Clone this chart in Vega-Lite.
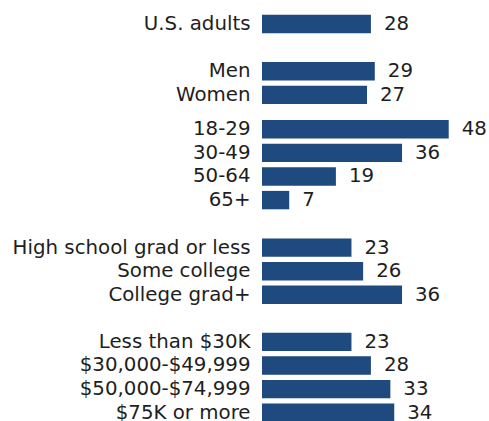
{
  "$schema": "https://vega.github.io/schema/vega-lite/v6.json",
  "padding": {"left": 12, "top": 12.2, "right": 0, "bottom": 0},
  "background": "white",
  "data": {"values": [
    {"group": "total", "label": "U.S. adults", "value": 28},
    {"group": "gender", "label": "Men", "value": 29},
    {"group": "gender", "label": "Women", "value": 27},
    {"group": "age", "label": "18-29", "value": 48},
    {"group": "age", "label": "30-49", "value": 36},
    {"group": "age", "label": "50-64", "value": 19},
    {"group": "age", "label": "65+", "value": 7},
    {"group": "edu", "label": "High school grad or less", "value": 23},
    {"group": "edu", "label": "Some college", "value": 26},
    {"group": "edu", "label": "College grad+", "value": 36},
    {"group": "income", "label": "Less than $30K", "value": 23},
    {"group": "income", "label": "$30,000-$49,999", "value": 28},
    {"group": "income", "label": "$50,000-$74,999", "value": 33},
    {"group": "income", "label": "$75K or more", "value": 34}
  ]},
  "spacing": 23.3,
  "resolve": {"scale": {"y": "independent"}},
  "vconcat": [
    {
      "transform": [{"filter": "datum.group === 'total'"}],
      "width": 194.5,
      "height": {"step": 23.6},
      "encoding": {
        "y": {"field": "label", "type": "nominal", "sort": null, "scale": {"paddingInner": 0.22, "paddingOuter": 0.11}},
        "x": {"field": "value", "type": "quantitative", "scale": {"domain": [0, 50]}, "axis": null}
      },
      "layer": [
        {"mark": {"type": "bar", "color": "#1f4a7f"}},
        {"mark": {"type": "text", "align": "left", "baseline": "middle", "dx": 13, "fontSize": 19.8, "font": "DejaVu Sans", "color": "#1e1e1e"}, "encoding": {"text": {"field": "value", "type": "quantitative"}}}
      ]
    },
    {
      "spacing": 10,
      "resolve": {"scale": {"y": "independent"}},
      "vconcat": [
        {
          "transform": [{"filter": "datum.group === 'gender'"}],
          "width": 194.5,
          "height": {"step": 23.6},
          "encoding": {
            "y": {"field": "label", "type": "nominal", "sort": null, "scale": {"paddingInner": 0.22, "paddingOuter": 0.11}},
            "x": {"field": "value", "type": "quantitative", "scale": {"domain": [0, 50]}, "axis": null}
          },
          "layer": [
            {"mark": {"type": "bar", "color": "#1f4a7f"}},
            {"mark": {"type": "text", "align": "left", "baseline": "middle", "dx": 13, "fontSize": 19.8, "font": "DejaVu Sans", "color": "#1e1e1e"}, "encoding": {"text": {"field": "value", "type": "quantitative"}}}
          ]
        },
        {
          "transform": [{"filter": "datum.group === 'age'"}],
          "width": 194.5,
          "height": {"step": 23.6},
          "encoding": {
            "y": {"field": "label", "type": "nominal", "sort": null, "scale": {"paddingInner": 0.22, "paddingOuter": 0.11}},
            "x": {"field": "value", "type": "quantitative", "scale": {"domain": [0, 50]}, "axis": null}
          },
          "layer": [
            {"mark": {"type": "bar", "color": "#1f4a7f"}},
            {"mark": {"type": "text", "align": "left", "baseline": "middle", "dx": 13, "fontSize": 19.8, "font": "DejaVu Sans", "color": "#1e1e1e"}, "encoding": {"text": {"field": "value", "type": "quantitative"}}}
          ]
        }
      ]
    },
    {
      "transform": [{"filter": "datum.group === 'edu'"}],
      "width": 194.5,
      "height": {"step": 23.6},
      "encoding": {
        "y": {"field": "label", "type": "nominal", "sort": null, "scale": {"paddingInner": 0.22, "paddingOuter": 0.11}},
        "x": {"field": "value", "type": "quantitative", "scale": {"domain": [0, 50]}, "axis": null}
      },
      "layer": [
        {"mark": {"type": "bar", "color": "#1f4a7f"}},
        {"mark": {"type": "text", "align": "left", "baseline": "middle", "dx": 13, "fontSize": 19.8, "font": "DejaVu Sans", "color": "#1e1e1e"}, "encoding": {"text": {"field": "value", "type": "quantitative"}}}
      ]
    },
    {
      "transform": [{"filter": "datum.group === 'income'"}],
      "width": 194.5,
      "height": {"step": 23.6},
      "encoding": {
        "y": {"field": "label", "type": "nominal", "sort": null, "scale": {"paddingInner": 0.22, "paddingOuter": 0.11}},
        "x": {"field": "value", "type": "quantitative", "scale": {"domain": [0, 50]}, "axis": null}
      },
      "layer": [
        {"mark": {"type": "bar", "color": "#1f4a7f"}},
        {"mark": {"type": "text", "align": "left", "baseline": "middle", "dx": 13, "fontSize": 19.8, "font": "DejaVu Sans", "color": "#1e1e1e"}, "encoding": {"text": {"field": "value", "type": "quantitative"}}}
      ]
    }
  ],
  "config": {
    "view": {"stroke": null},
    "axisY": {
      "title": null,
      "ticks": false,
      "domain": false,
      "grid": false,
      "labelFont": "DejaVu Sans",
      "labelFontSize": 19.8,
      "labelColor": "#1e1e1e",
      "labelPadding": 12,
      "labelLimit": 300,
      "minExtent": 250,
      "maxExtent": 250
    }
  }
}
